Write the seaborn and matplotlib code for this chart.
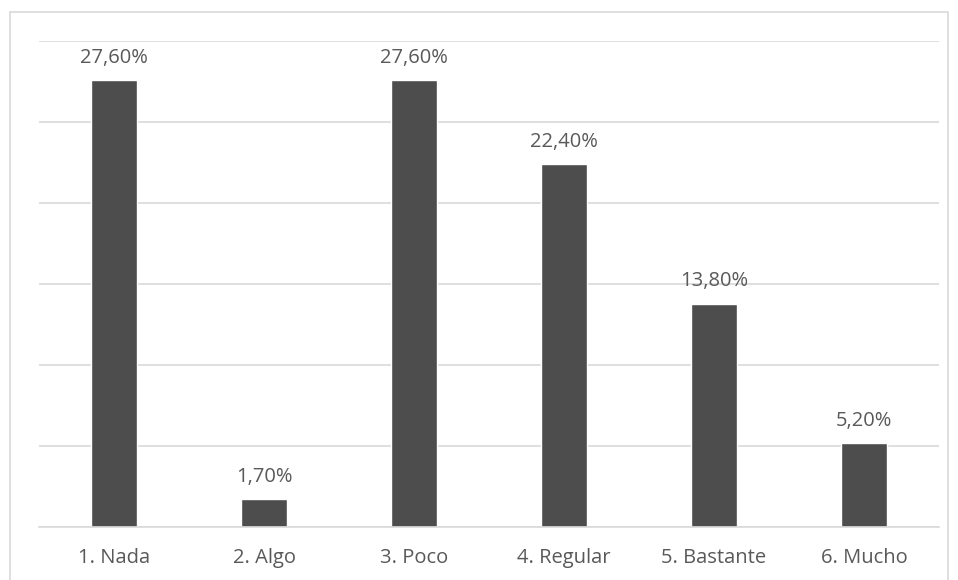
import matplotlib
matplotlib.use("Agg")
import matplotlib.pyplot as plt
import seaborn as sns
import pandas as pd
from matplotlib.patches import Rectangle

# Categories and percentages
categories = ["1. Nada", "2. Algo", "3. Poco", "4. Regular", "5. Bastante", "6. Mucho"]
values = [27.6, 1.7, 27.6, 22.4, 13.8, 5.2]
labels = ["27,60%", "1,70%", "27,60%", "22,40%", "13,80%", "5,20%"]

df = pd.DataFrame({"cat": categories, "val": values})

sns.set_style("white")
plt.rcParams['font.family'] = ['Open Sans', 'DejaVu Sans']

fig = plt.figure(figsize=(9.58, 5.8), dpi=100)
ax = fig.add_axes([0.0407, 0.0914, 0.9395, 0.8376])

sns.barplot(data=df, x="cat", y="val", color="#4d4d4d", saturation=1,
            width=0.31, ax=ax)

ax.set_ylim(0, 30)
ax.set_xlim(-0.5, 5.5)
ax.set_yticks([0, 5, 10, 15, 20, 25, 30])
ax.yaxis.grid(True, color="#d9d9d9", linewidth=1.2)
ax.set_axisbelow(True)
ax.set_yticklabels([])
ax.tick_params(axis="y", length=0)
ax.tick_params(axis="x", length=0, labelsize=14.5, labelcolor="#595959", pad=15)
for s in ["top", "right", "left"]:
    ax.spines[s].set_visible(False)
ax.spines["bottom"].set_color("#d9d9d9")
ax.spines["bottom"].set_linewidth(1.2)
ax.set_xlabel("")
ax.set_ylabel("")

for i, (v, lab) in enumerate(zip(values, labels)):
    ax.annotate(lab, (i, v), xytext=(0, 16), textcoords="offset points",
                ha="center", va="center", fontsize=14.5, color="#595959")

# outer chart frame
fig.patches.append(Rectangle((10 / 958, -0.05), 938 / 958, 1 - 12 / 580 + 0.05,
                             transform=fig.transFigure, fill=False,
                             edgecolor="#d9d9d9", linewidth=1.2))

fig.savefig("out.png", dpi=100)
